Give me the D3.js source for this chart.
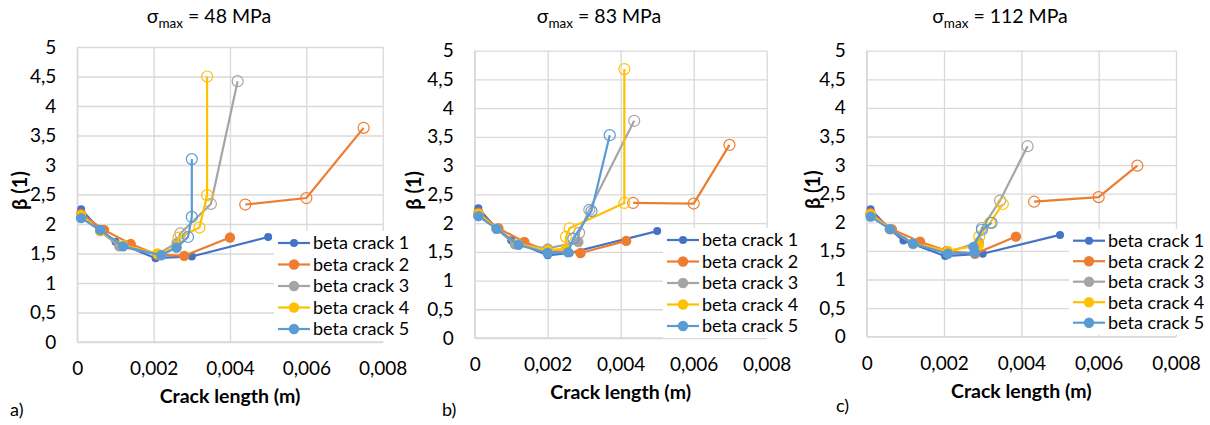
<!DOCTYPE html>
<html><head><meta charset="utf-8">
<script src="https://cdn.jsdelivr.net/npm/d3@7"></script>
<style>
body{margin:0;background:#fff;}
text{font-family:Lato,"Open Sans",sans-serif;fill:#000;}
</style></head>
<body><svg id="c" width="1210" height="425"></svg>
<script>
// ---- data ----
const seriesNames = ["beta crack 1","beta crack 2","beta crack 3","beta crack 4","beta crack 5"];
const seriesColors = ["#4472C4","#ED7D31","#A5A5A5","#FFC000","#5B9BD5"];
const xTicks = [0,0.002,0.004,0.006,0.008];
const yTicks = [0,0.5,1,1.5,2,2.5,3,3.5,4,4.5,5];
const panelTitles = ["48","83","112"];
const panelLetters = ["a)","b)","c)"];
// connect open branch to last filled point (per crack)
const connectOpen = [false,false,true,true,true];

// Panel a (48 MPa): filled branch and open-marker branch per crack
const a1 = [[0.0001,2.25],[0.0006,1.9],[0.001,1.7],[0.00205,1.42],[0.003,1.45],[0.005,1.78]];
const a2 = [[0.0001,2.17],[0.0007,1.9],[0.0014,1.66],[0.0021,1.48],[0.0028,1.46],[0.004,1.77]];
const a3 = [[0.0001,2.12],[0.0006,1.88],[0.0011,1.62],[0.0021,1.49],[0.0026,1.68]];
const a4 = [[0.0001,2.15],[0.0006,1.88],[0.0012,1.64],[0.0021,1.5],[0.0026,1.6]];
const a5 = [[0.0001,2.1],[0.0006,1.9],[0.0012,1.62],[0.0022,1.47],[0.0026,1.6]];
const a1o = [];
const a2o = [[0.0044,2.33],[0.006,2.44],[0.0075,3.63]];
const a3o = [[0.0027,1.84],[0.0035,2.34],[0.0042,4.42]];
const a4o = [[0.00265,1.77],[0.0032,1.94],[0.0034,2.49],[0.0034,4.5]];
const a5o = [[0.0029,1.78],[0.003,2.12],[0.003,3.1]];

// Panel b (83 MPa)
const b1 = [[0.0001,2.26],[0.0006,1.9],[0.001,1.7],[0.002,1.44],[0.0026,1.48],[0.005,1.86]];
const b2 = [[0.0001,2.18],[0.00065,1.91],[0.00136,1.67],[0.002,1.52],[0.0029,1.48],[0.00415,1.69]];
const b3 = [[0.0001,2.15],[0.0006,1.9],[0.0011,1.63],[0.002,1.56],[0.00284,1.67]];
const b4 = [[0.0001,2.16],[0.0006,1.9],[0.0012,1.63],[0.002,1.53],[0.0025,1.55]];
const b5 = [[0.0001,2.12],[0.0006,1.9],[0.0012,1.62],[0.002,1.48],[0.00256,1.49]];
const b1o = [];
const b2o = [[0.00434,2.35],[0.006,2.34],[0.00698,3.36]];
const b3o = [[0.00286,1.83],[0.00314,2.23],[0.00437,3.78]];
const b4o = [[0.0025,1.76],[0.0026,1.91],[0.0041,2.35],[0.0041,4.68]];
const b5o = [[0.0027,1.73],[0.0032,2.21],[0.0037,3.53]];

// Panel c (112 MPa)
const c1 = [[0.0001,2.23],[0.0006,1.88],[0.00095,1.68],[0.00203,1.41],[0.003,1.45],[0.005,1.78]];
const c2 = [[0.0001,2.16],[0.00065,1.88],[0.00138,1.66],[0.00207,1.5],[0.0028,1.45],[0.00386,1.75]];
const c3 = [[0.0001,2.13],[0.0006,1.88],[0.0012,1.62],[0.0021,1.48],[0.0029,1.65]];
const c4 = [[0.0001,2.14],[0.0006,1.88],[0.0012,1.63],[0.0021,1.5],[0.0029,1.6]];
const c5 = [[0.0001,2.1],[0.0006,1.88],[0.0012,1.63],[0.0021,1.45],[0.0028,1.47],[0.00276,1.57]];
const c1o = [];
const c2o = [[0.00433,2.36],[0.006,2.44],[0.007,2.99]];
const c3o = [[0.00298,1.9],[0.00345,2.38],[0.00416,3.33]];
const c4o = [[0.00291,1.75],[0.00319,1.99],[0.00352,2.32]];
const c5o = [[0.00298,1.87],[0.00323,1.99]];

const panelFilled = [[a1,a2,a3,a4,a5],[b1,b2,b3,b4,b5],[c1,c2,c3,c4,c5]];
const panelOpen = [[a1o,a2o,a3o,a4o,a5o],[b1o,b2o,b3o,b4o,b5o],[c1o,c2o,c3o,c4o,c5o]];

// ---- layout ----
const layout = [
  {x0:77.3,x1:382.7,y0:342,y1:47,titleX:209,legX:278,legY:243,legDy:21.5,letterX:10,letterY:416,yTitleX:20},
  {x0:474.7,x1:766.7,y0:338,y1:50.7,titleX:599,legX:667,legY:240,legDy:21.5,letterX:442,letterY:416,yTitleX:414},
  {x0:866.7,x1:1176,y0:336.7,y1:50.7,titleX:1000,legX:1073,legY:240.7,legDy:20.5,letterX:836,letterY:412,yTitleX:813}
];
const svg = d3.select("#c");
const fmt = d => d===0 ? "0" : String(d).replace(".",",");

layout.forEach((L,p)=>{
  const x = d3.scaleLinear().domain([0,0.008]).range([L.x0,L.x1]);
  const y = d3.scaleLinear().domain([0,5]).range([L.y0,L.y1]);
  const g = svg.append("g");
  // grid
  const gx = g.append("g").attr("transform",`translate(0,${L.y0})`)
    .call(d3.axisBottom(x).tickValues(xTicks).tickSize(-(L.y0-L.y1)).tickFormat(fmt).tickPadding(20));
  const gy = g.append("g").attr("transform",`translate(${L.x0},0)`)
    .call(d3.axisLeft(y).tickValues(yTicks).tickSize(-(L.x1-L.x0)).tickFormat(fmt).tickPadding(21));
  [gx,gy].forEach(a=>{
    a.select(".domain").remove();
    a.selectAll(".tick line").attr("stroke","#D9D9D9").attr("stroke-width",1.3);
    a.selectAll(".tick text").style("font-size","19px").attr("fill","#000");
  });
  // axis lines
  g.append("line").attr("x1",L.x0).attr("x2",L.x1).attr("y1",L.y0).attr("y2",L.y0).attr("stroke","#D9D9D9").attr("stroke-width",1.3);
  g.append("line").attr("x1",L.x0).attr("x2",L.x0).attr("y1",L.y0).attr("y2",L.y1).attr("stroke","#D9D9D9").attr("stroke-width",1.3);

  const line = d3.line().x(d=>x(d[0])).y(d=>y(d[1]));
  for(let s=0;s<5;s++){
    const col = seriesColors[s];
    const f = panelFilled[p][s], o = panelOpen[p][s];
    g.append("path").attr("d",line(f)).attr("fill","none").attr("stroke",col).attr("stroke-width",2.2);
    if(o.length){
      const od = connectOpen[s] ? [f[f.length-1]].concat(o) : o;
      g.append("path").attr("d",line(od)).attr("fill","none").attr("stroke",col).attr("stroke-width",2.2);
    }
    g.selectAll(null).data(f).enter().append("circle")
      .attr("cx",d=>x(d[0])).attr("cy",d=>y(d[1])).attr("r",s===0?4:5.2).attr("fill",col);
    g.selectAll(null).data(o).enter().append("circle")
      .attr("cx",d=>x(d[0])).attr("cy",d=>y(d[1])).attr("r",5.5).attr("fill","none").attr("stroke",col).attr("stroke-width",1.2);
  }
  // legend
  const lg = g.append("g");
  lg.append("rect").attr("x",L.legX-4).attr("y",L.legY-12).attr("width",130).attr("height",L.legDy*4+24).attr("fill","#fff");
  seriesNames.forEach((n,i)=>{
    const yy = L.legY + i*L.legDy;
    lg.append("line").attr("x1",L.legX).attr("x2",L.legX+32).attr("y1",yy).attr("y2",yy).attr("stroke",seriesColors[i]).attr("stroke-width",2.2);
    lg.append("circle").attr("cx",L.legX+16).attr("cy",yy).attr("r",i===0?4:5.2).attr("fill",seriesColors[i]);
    lg.append("text").attr("x",L.legX+35).attr("y",yy).attr("dy","0.35em").style("font-size","18px").text(n);
  });
  // title
  const t = g.append("text").attr("x",L.titleX).attr("y",23).attr("text-anchor","middle").style("font-size","19.5px");
  t.append("tspan").text("σ");
  t.append("tspan").attr("dy",5).style("font-size","13.5px").text("max");
  t.append("tspan").attr("dy",-5).text(" = " + panelTitles[p] + " MPa");
  // axis titles
  g.append("text").attr("x",(L.x0+L.x1)/2).attr("y",L.y0+61).attr("text-anchor","middle")
    .style("font-size","19.5px").style("font-weight","bold").text("Crack length (m)");
  g.append("text").attr("transform",`translate(${L.yTitleX},${(L.y0+L.y1)/2 - 4}) rotate(-90)`)
    .attr("text-anchor","middle").attr("dy","0.35em").style("font-size","20px").style("font-weight","bold").text("β (1)");
  g.append("text").attr("x",L.letterX).attr("y",L.letterY).style("font-size","18px").text(panelLetters[p]);
});
</script></body></html>
